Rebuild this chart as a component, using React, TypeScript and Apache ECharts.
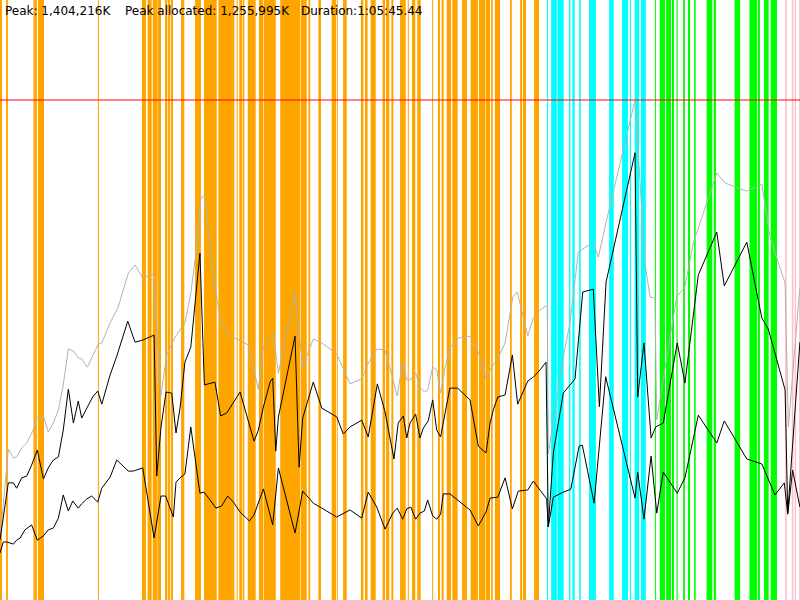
import React, { useEffect, useRef } from "react";
import * as echarts from "echarts";

// Summary values (heap in thousands of K, time in seconds)
const PEAK_TEXT = "Peak: 1,404,216K";
const PEAK_ALLOC_TEXT = "Peak allocated: 1,255,995K";
const DURATION_TEXT = "Duration:1:05:45.44";
const PEAK = 1404.216;
const DURATION = 3945.44;
const Y_MAX = 1685.06;

// GC event stripes [start s, end s]
const orangeStripes: [number, number][] = [
  [0, 10], [30, 39], [165, 173], [173, 182], [187, 217], [483, 488],
  [700, 720], [728, 748], [753, 774], [776, 794], [814, 824], [827, 838],
  [842, 853], [893, 909], [962, 991], [1006, 1069], [1077, 1156],
  [1167, 1172], [1180, 1194], [1197, 1205], [1222, 1261],
  [1277, 1299], [1302, 1360], [1382, 1481], [1484, 1513], [1521, 1530], [1570, 1583],
  [1636, 1657], [1661, 1666], [1692, 1710], [1780, 1792], [1800, 1813],
  [1828, 1853], [1887, 1899], [1904, 1920], [1930, 1940], [1973, 2001],
  [2011, 2016], [2032, 2048], [2058, 2075], [2131, 2136], [2160, 2170],
  [2178, 2188], [2203, 2224], [2231, 2257], [2279, 2303], [2321, 2357],
  [2362, 2392], [2395, 2417], [2422, 2430], [2441, 2466], [2515, 2524],
  [2565, 2575], [2579, 2594], [2634, 2658],
];
const cyanStripes: [number, number][] = [
  [2698, 2703], [2718, 2746], [2749, 2780], [2806, 2813], [2823, 2834],
  [2856, 2864], [2905, 2939], [3004, 3027], [3068, 3097], [3106, 3112],
  [3130, 3152], [3161, 3185],
];
const greenStripes: [number, number][] = [
  [3230, 3235], [3254, 3280], [3285, 3309], [3314, 3324], [3336, 3342],
  [3369, 3378], [3393, 3403], [3423, 3431], [3485, 3513], [3520, 3531],
  [3623, 3650], [3696, 3734], [3738, 3748], [3768, 3791], [3801, 3832],
];
const pinkStripes: [number, number][] = [
  [3872, 3880], [3905, 3913], [3919, 3926], [3941, 3945],
];

// Committed heap (gray)
const heapSize: [number, number][] = [
  [0, 168], [41, 424], [66, 399], [82, 402], [107, 427], [132, 441], [164, 477],
  [181, 511], [214, 517], [238, 472], [263, 497], [288, 534], [312, 604], [337, 705],
  [362, 699], [386, 680], [403, 677], [431, 654], [485, 719], [502, 722], [543, 778],
  [583, 823], [633, 918], [666, 941], [704, 904], [731, 910], [756, 915], [793, 573],
  [822, 688], [863, 738], [888, 758], [912, 778], [941, 862], [970, 991], [991, 1129],
  [1011, 1137], [1027, 1039], [1052, 907], [1085, 795], [1118, 750], [1151, 738],
  [1225, 716], [1274, 592], [1299, 710], [1332, 741], [1348, 747], [1373, 637],
  [1455, 865], [1493, 654], [1545, 733], [1587, 722], [1661, 691], [1726, 607],
  [1784, 621], [1816, 665], [1858, 705], [1899, 702], [1959, 573], [1986, 668],
  [2006, 618], [2022, 618], [2050, 637], [2071, 598], [2093, 584], [2109, 590],
  [2134, 654], [2154, 646], [2173, 581], [2195, 654], [2219, 708], [2260, 736],
  [2318, 741], [2359, 696], [2397, 623], [2425, 654], [2458, 682], [2491, 722],
  [2529, 851], [2551, 865], [2603, 741], [2630, 792], [2663, 814], [2699, 828],
  [2704, 410], [2778, 682], [2811, 778], [2852, 977], [2926, 1005], [2951, 963],
  [2992, 1068], [3132, 1404], [3181, 946], [3206, 851], [3230, 848], [3239, 506],
  [3337, 851], [3378, 879], [3419, 1002], [3535, 1199], [3576, 1171], [3683, 1148],
  [3757, 1168], [3798, 1019], [3872, 890], [3888, 486], [3945, 879],
];

// Used heap before GC (black, upper)
const usedBefore: [number, number][] = [
  [0, 168], [41, 329], [66, 329], [82, 314], [107, 343], [132, 348], [156, 379],
  [184, 421], [214, 340], [238, 371], [263, 393], [288, 402], [312, 477], [337, 592],
  [362, 497], [386, 559], [403, 511], [431, 542], [457, 570], [482, 587], [502, 550],
  [543, 632], [576, 685], [630, 783], [666, 724], [704, 730], [760, 744], [773, 348],
  [794, 486], [819, 584], [847, 581], [868, 469], [888, 539], [912, 668], [941, 710],
  [986, 974], [1008, 604], [1060, 612], [1088, 517], [1118, 525], [1184, 584],
  [1253, 446], [1274, 477], [1299, 542], [1332, 612], [1345, 623], [1360, 418],
  [1373, 514], [1455, 741], [1475, 373], [1493, 511], [1545, 612], [1587, 539],
  [1661, 514], [1693, 466], [1726, 486], [1784, 505], [1816, 458], [1861, 607],
  [1899, 528], [1943, 396], [1964, 497], [1989, 517], [2006, 455], [2022, 497],
  [2050, 522], [2071, 455], [2088, 483], [2112, 503], [2134, 562], [2154, 477],
  [2173, 458], [2195, 525], [2219, 595], [2257, 595], [2318, 562], [2359, 432],
  [2397, 413], [2417, 497], [2433, 534], [2455, 570], [2491, 576], [2527, 688],
  [2553, 550], [2603, 615], [2630, 626], [2663, 646], [2693, 668], [2704, 205],
  [2729, 413], [2778, 581], [2836, 621], [2874, 865], [2926, 873], [2956, 543],
  [2989, 893], [3132, 1256], [3145, 570], [3176, 722], [3211, 455], [3234, 486],
  [3271, 497], [3340, 722], [3378, 609], [3444, 913], [3535, 1033], [3572, 882],
  [3683, 1005], [3757, 792], [3789, 761], [3872, 590], [3885, 244], [3945, 724],
];

// Used heap after GC (black, lower)
const usedAfter: [number, number][] = [
  [0, 132], [16, 163], [33, 163], [66, 157], [82, 168], [99, 174], [123, 197],
  [156, 211], [184, 168], [214, 180], [238, 197], [263, 202], [288, 230], [312, 295],
  [337, 250], [359, 278], [386, 258], [403, 270], [428, 284], [452, 292], [482, 275],
  [502, 314], [543, 345], [576, 393], [633, 362], [657, 362], [704, 371], [760, 174],
  [794, 292], [817, 292], [855, 233], [868, 331], [888, 343], [912, 354], [941, 486],
  [986, 300], [1006, 303], [1036, 281], [1065, 258], [1093, 264], [1123, 292],
  [1151, 275], [1184, 247], [1230, 222], [1253, 239], [1299, 312], [1332, 239],
  [1345, 211], [1373, 371], [1455, 188], [1493, 306], [1545, 272], [1587, 258],
  [1661, 233], [1726, 253], [1784, 230], [1816, 303], [1858, 261], [1899, 199],
  [1937, 244], [1959, 258], [1986, 227], [2006, 256], [2026, 261], [2050, 227],
  [2071, 244], [2093, 250], [2109, 281], [2134, 236], [2154, 227], [2173, 241],
  [2186, 298], [2219, 298], [2318, 253], [2359, 208], [2397, 247], [2417, 286],
  [2455, 289], [2491, 343], [2527, 256], [2556, 306], [2603, 309], [2630, 334],
  [2663, 309], [2696, 284], [2704, 205], [2729, 289], [2778, 303], [2815, 311],
  [2856, 432], [2872, 435], [2930, 272], [2987, 627], [3132, 286], [3145, 359],
  [3176, 227], [3211, 404], [3239, 244], [3271, 359], [3340, 300], [3378, 343],
  [3444, 519], [3535, 441], [3572, 503], [3683, 396], [3757, 382], [3822, 295],
  [3868, 329], [3885, 241], [3909, 365], [3945, 261],
];

function stripeSeries(data: [number, number][], color: string) {
  return {
    type: "custom",
    silent: true,
    z: 1,
    encode: { x: [0, 1] },
    data,
    renderItem: (params: any, api: any) => {
      const s = api.coord([api.value(0), 0]);
      const e = api.coord([api.value(1), 0]);
      const cs = params.coordSys;
      return {
        type: "rect",
        shape: { x: s[0], y: cs.y, width: Math.max(e[0] - s[0], 0.9), height: cs.height },
        style: { fill: color },
      };
    },
  };
}

function lineSeries(data: [number, number][], color: string) {
  return {
    type: "line",
    data,
    silent: true,
    z: 5,
    showSymbol: false,
    symbol: "none",
    lineStyle: { color, width: 1 },
  };
}

export default function App() {
  const ref = useRef<HTMLDivElement>(null);
  useEffect(() => {
    document.body.style.margin = "0";
    const chart = echarts.init(ref.current!, null, { renderer: "svg" });
    const font = { fontFamily: "DejaVu Sans", fontSize: 12, fill: "#000" };
    chart.setOption({
      animation: false,
      backgroundColor: "#fff",
      grid: { left: 0, right: 0, top: 0, bottom: 0 },
      xAxis: { type: "value", min: 0, max: DURATION, show: false },
      yAxis: { type: "value", min: 0, max: Y_MAX, show: false },
      graphic: [
        { type: "text", left: 5, top: 5, z: 100, style: { text: PEAK_TEXT, ...font } },
        { type: "text", left: 125, top: 5, z: 100, style: { text: PEAK_ALLOC_TEXT, ...font } },
        { type: "text", left: 301, top: 5, z: 100, style: { text: DURATION_TEXT, ...font } },
      ],
      series: [
        stripeSeries(orangeStripes, "#FFA500"),
        stripeSeries(cyanStripes, "#00FFFF"),
        stripeSeries(greenStripes, "#00FF00"),
        stripeSeries(pinkStripes, "#FFC0CB"),
        {
          ...lineSeries(heapSize, "#b2b2b2"),
          markLine: {
            silent: true,
            symbol: "none",
            label: { show: false },
            lineStyle: { color: "rgba(255,0,0,0.65)", width: 1.5, type: "solid" },
            data: [{ yAxis: PEAK }],
          },
        },
        lineSeries(usedBefore, "#000000"),
        lineSeries(usedAfter, "#000000"),
      ],
    });
    return () => chart.dispose();
  }, []);
  return <div ref={ref} style={{ width: 800, height: 600 }} />;
}
